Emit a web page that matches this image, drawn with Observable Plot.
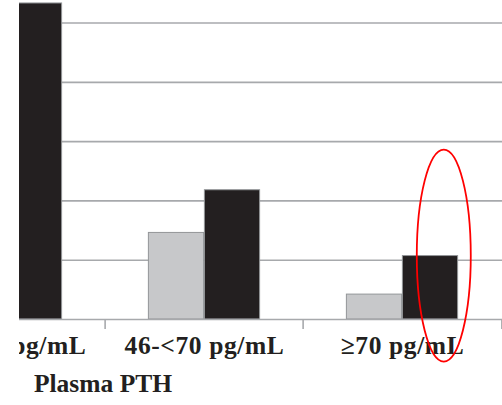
<!DOCTYPE html>
<html>
<head>
<meta charset="utf-8">
<script src="https://cdn.jsdelivr.net/npm/d3@7"></script>
<script src="https://cdn.jsdelivr.net/npm/@observablehq/plot@0.6"></script>
<style>
  html, body { margin: 0; padding: 0; background: #fff; }
  #chart { width: 502px; height: 405px; overflow: hidden; }
  #chart svg { display: block; overflow: hidden; clip-path: inset(0 0 0 19px); }
  #chart .tick-label text { letter-spacing: 0.6px; }
</style>
</head>
<body>
<div id="chart"></div>
<script>
// PTH categories along the x axis
const groups = ["10-<46 pg/mL", "46-<70 pg/mL", "≥70 pg/mL"];
// the two bars shown in each category
const seriesNames = ["light", "dark"];
const lightValues = [null, 14.6, 4.2];
const darkValues = [53.3, 21.8, 10.7];
// horizontal gridlines
const gridTicks = [10, 20, 30, 40, 50];
const axisTitle = "Plasma PTH";
// the bar circled in red
const highlighted = { group: "≥70 pg/mL", series: "dark" };

const rows = [];
groups.forEach((g, i) => {
  rows.push({ group: g, series: "light", value: lightValues[i] });
  rows.push({ group: g, series: "dark", value: darkValues[i] });
});

// band layout: one band per category, two 56px bars centred in it
const xRange = [-94.6, 501.7];
const step = (xRange[1] - xRange[0]) / groups.length;
const barW = 56;
const outer = (step - 2 * barW) / 2;
const insets = {
  light: { insetLeft: outer, insetRight: step - outer - barW },
  dark: { insetLeft: outer + barW, insetRight: outer }
};

const gridColor = "#a7a9ac";
const textColor = "#231f20";
const font = "'Liberation Serif', 'Times New Roman', serif";

const ellipseMark = (index, scales) => {
  const x = scales.x, y = scales.y;
  const v = rows.find(r => r.group === highlighted.group && r.series === highlighted.series).value;
  const left = x(highlighted.group) + insets[highlighted.series].insetLeft;
  const e = d3.create("svg:ellipse")
    .attr("cx", left + barW / 2 + 13.4)
    .attr("cy", y(v))
    .attr("rx", 27)
    .attr("ry", 106)
    .attr("fill", "none")
    .attr("stroke", "#ff0000")
    .attr("stroke-width", 1.8);
  return e.node();
};

const chart = Plot.plot({
  width: 502,
  height: 405,
  marginLeft: 19,
  marginRight: 0,
  marginTop: 0,
  marginBottom: 86,
  x: { type: "band", domain: groups, range: xRange, paddingInner: 0, paddingOuter: 0, axis: null },
  y: { domain: [0, 53.8], axis: null },
  color: { domain: seriesNames, range: ["#c7c8ca", "#231f20"] },
  style: { background: "white", fontFamily: font },
  marks: [
    Plot.ruleY(gridTicks, { stroke: gridColor, strokeWidth: 1.6 }),
    Plot.barY(rows.filter(r => r.series === "light" && r.value != null), {
      x: "group", y: "value", fill: "series", stroke: "#939598", strokeWidth: 1,
      ...insets.light
    }),
    Plot.barY(rows.filter(r => r.series === "dark"), {
      x: "group", y: "value", fill: "series", stroke: "#939598", strokeWidth: 1,
      ...insets.dark
    }),
    Plot.ruleY([0], { stroke: gridColor, strokeWidth: 1.6 }),
    // category boundary ticks below the baseline
    Plot.ruleX(groups, { x: d => d, dx: -step / 2, y1: 0, y2: 0, insetBottom: -10, stroke: gridColor, strokeWidth: 1.6 }),
    Plot.ruleX(groups.slice(-1), { x: d => d, dx: step / 2, y1: 0, y2: 0, insetBottom: -10, stroke: gridColor, strokeWidth: 1.6 }),
    Plot.text(groups, {
      x: d => d, frameAnchor: "bottom", dy: 34, className: "tick-label",
      fontSize: 25.5, fontWeight: "bold", fill: textColor, fontFamily: font
    }),
    Plot.text([axisTitle], {
      frameAnchor: "bottom-left", dx: 83.5, dy: 72, textAnchor: "middle",
      fontSize: 25.5, fontWeight: "bold", fill: textColor, fontFamily: font
    }),
    ellipseMark
  ]
});

document.getElementById("chart").append(chart);
</script>
</body>
</html>
